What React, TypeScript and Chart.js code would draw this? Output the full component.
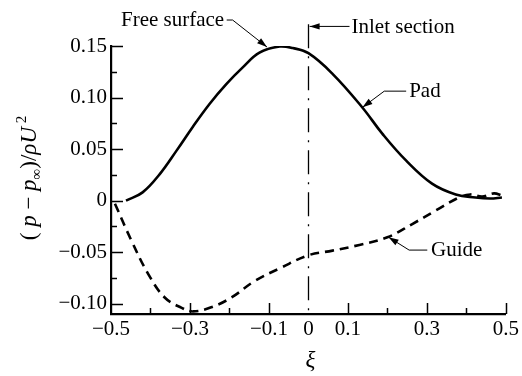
import React, { useEffect, useRef } from "react";
import { Chart, registerables } from "chart.js";

Chart.register(...registerables);

// Pad (solid) curve
const padXi = [-0.462, -0.42, -0.376, -0.334, -0.293, -0.25, -0.208, -0.167, -0.124, -0.073, -0.04, 0, 0.061, 0.136, 0.187, 0.247, 0.313, 0.373, 0.423, 0.46, 0.49];
const padP = [0, 0.008, 0.026, 0.0485, 0.0715, 0.094, 0.113, 0.129, 0.1435, 0.1495, 0.148, 0.143, 0.123, 0.0906, 0.065, 0.039, 0.0165, 0.006, 0.003, 0.002, 0.003];

// Guide (dashed) curve
const guideXi = [-0.49, -0.448, -0.406, -0.364, -0.321, -0.292, -0.246, -0.195, -0.136, -0.069, 0, 0.061, 0.129, 0.2, 0.263, 0.322, 0.381, 0.41, 0.44, 0.47, 0.49];
const guideP = [-0.003, -0.039, -0.071, -0.094, -0.104, -0.1075, -0.1035, -0.094, -0.078, -0.065, -0.053, -0.0485, -0.043, -0.0356, -0.0227, -0.0097, 0.003, 0.006, 0.004, 0.007, 0.005];

// Axes
const xMin = -0.5;
const xMax = 0.5;
const yMin = -0.11;
const yMax = 0.15;
const xTickValues = [-0.5, -0.3, -0.1, 0, 0.1, 0.3, 0.5];
const xTickLabels = ["\u22120.5", "\u22120.3", "\u22120.1", "0", "0.1", "0.3", "0.5"];
const xMajorMarks = [-0.3, -0.1, 0.1, 0.3, 0.5];
const xMinorMarks = [-0.4, -0.2, 0.2, 0.4];
const yTickValues = [-0.1, -0.05, 0, 0.05, 0.1, 0.15];
const yTickLabels = ["\u22120.10", "\u22120.05", "0", "0.05", "0.10", "0.15"];
const yMinorMarks = [-0.075, -0.025, 0.025, 0.075, 0.125];

// Annotations (data coordinates)
const inletXi = 0;
const inletTop = 0.171;
const annotations = [
  { text: "Free surface", align: "right", textAt: [-0.2134, 0.1752], path: [[-0.207, 0.1752], [-0.192, 0.1752], [-0.105, 0.149]] },
  { text: "Inlet section", align: "left", textAt: [0.109, 0.168], path: [[0.104, 0.169], [0.003, 0.169]] },
  { text: "Pad", align: "left", textAt: [0.255, 0.1054], path: [[0.2475, 0.1062], [0.192, 0.1062], [0.137, 0.0905]] },
  { text: "Guide", align: "left", textAt: [0.3106, -0.048], path: [[0.301, -0.048], [0.255, -0.048], [0.203, -0.0355]] },
];

const SERIF = "'Liberation Serif', 'Times New Roman', serif";

const decorPlugin = {
  id: "decor",
  beforeDatasetsDraw(chart: any) {
    const { ctx, scales } = chart;
    const xs = scales.x;
    const ys = scales.y;
    const x0 = Math.round(xs.getPixelForValue(inletXi)) + 0.5;
    ctx.save();
    ctx.strokeStyle = "#000";
    ctx.lineWidth = 1.3;
    ctx.setLineDash([24, 8, 2, 8]);
    ctx.beginPath();
    ctx.moveTo(x0, ys.getPixelForValue(inletTop));
    ctx.lineTo(x0, ys.bottom);
    ctx.stroke();
    ctx.restore();
  },
  afterDraw(chart: any) {
    const { ctx, scales, chartArea } = chart;
    const xs = scales.x;
    const ys = scales.y;
    ctx.save();
    ctx.strokeStyle = "#000";
    ctx.fillStyle = "#000";
    ctx.setLineDash([]);
    // inward ticks
    ctx.lineWidth = 1.5;
    ctx.beginPath();
    yTickValues.forEach((v) => {
      const y = Math.round(ys.getPixelForValue(v)) + 0.5;
      ctx.moveTo(chartArea.left, y);
      ctx.lineTo(chartArea.left + 12, y);
    });
    yMinorMarks.forEach((v) => {
      const y = Math.round(ys.getPixelForValue(v)) + 0.5;
      ctx.moveTo(chartArea.left, y);
      ctx.lineTo(chartArea.left + 6, y);
    });
    xMajorMarks.forEach((v) => {
      const x = Math.round(xs.getPixelForValue(v)) + 0.5;
      ctx.moveTo(x, chartArea.bottom);
      ctx.lineTo(x, chartArea.bottom - 11);
    });
    xMinorMarks.forEach((v) => {
      const x = Math.round(xs.getPixelForValue(v)) + 0.5;
      ctx.moveTo(x, chartArea.bottom);
      ctx.lineTo(x, chartArea.bottom - 6);
    });
    ctx.stroke();

    // annotations
    ctx.font = `21px ${SERIF}`;
    ctx.textBaseline = "middle";
    annotations.forEach((a) => {
      const pts = a.path.map((p) => [xs.getPixelForValue(p[0]), ys.getPixelForValue(p[1])]);
      ctx.lineWidth = 1;
      ctx.beginPath();
      ctx.moveTo(pts[0][0], pts[0][1]);
      for (let i = 1; i < pts.length; i++) ctx.lineTo(pts[i][0], pts[i][1]);
      ctx.stroke();
      const tip = pts[pts.length - 1];
      const prev = pts[pts.length - 2];
      const ang = Math.atan2(tip[1] - prev[1], tip[0] - prev[0]);
      const L = 10;
      const W = 3.2;
      ctx.beginPath();
      ctx.moveTo(tip[0], tip[1]);
      ctx.lineTo(tip[0] - L * Math.cos(ang) + W * Math.sin(ang), tip[1] - L * Math.sin(ang) - W * Math.cos(ang));
      ctx.lineTo(tip[0] - L * Math.cos(ang) - W * Math.sin(ang), tip[1] - L * Math.sin(ang) + W * Math.cos(ang));
      ctx.closePath();
      ctx.fill();
      ctx.textAlign = a.align as CanvasTextAlign;
      ctx.fillText(a.text, xs.getPixelForValue(a.textAt[0]), ys.getPixelForValue(a.textAt[1]));
    });

    // x title
    ctx.textAlign = "center";
    ctx.textBaseline = "alphabetic";
    ctx.font = `italic 23px ${SERIF}`;
    ctx.fillText("\u03BE", xs.getPixelForValue(0) + 2, 367);

    // y title (rotated, with sub/superscripts)
    const pieces = [
      { t: "(", f: `23px ${SERIF}`, dy: 0 },
      { t: " p", f: `italic 23px ${SERIF}`, dy: 0 },
      { t: " \u2212 ", f: `23px ${SERIF}`, dy: 0 },
      { t: "p", f: `italic 23px ${SERIF}`, dy: 0 },
      { t: "\u221E", f: `15px ${SERIF}`, dy: 5 },
      { t: ")/", f: `23px ${SERIF}`, dy: 0 },
      { t: "\u03C1U", f: `italic 23px ${SERIF}`, dy: 0 },
      { t: " 2", f: `15px ${SERIF}`, dy: -10 },
    ];
    let total = 0;
    const widths = pieces.map((p) => {
      ctx.font = p.f;
      const w = ctx.measureText(p.t).width;
      total += w;
      return w;
    });
    ctx.translate(36, (chartArea.top + chartArea.bottom) / 2 - 2);
    ctx.rotate(-Math.PI / 2);
    ctx.textAlign = "left";
    let cx = -total / 2;
    pieces.forEach((p, i) => {
      ctx.font = p.f;
      ctx.fillText(p.t, cx, p.dy);
      cx += widths[i];
    });
    ctx.restore();
  },
};

export default function App() {
  const ref = useRef<HTMLCanvasElement | null>(null);
  useEffect(() => {
    if (!ref.current) return;
    const chart = new Chart(ref.current, {
      type: "scatter",
      data: {
        datasets: [
          {
            label: "Pad",
            data: padXi.map((x, i) => ({ x, y: padP[i] })),
            showLine: true,
            borderColor: "#000",
            borderWidth: 2.6,
            pointRadius: 0,
            tension: 0.4,
          },
          {
            label: "Guide",
            data: guideXi.map((x, i) => ({ x, y: guideP[i] })),
            showLine: true,
            borderColor: "#000",
            borderWidth: 2.6,
            borderDash: [9, 6],
            pointRadius: 0,
            tension: 0.4,
          },
        ],
      },
      options: {
        animation: false,
        responsive: false,
        events: [],
        layout: { padding: { left: 0, top: 46, right: 15, bottom: 0 } },
        plugins: { legend: { display: false }, tooltip: { enabled: false } },
        scales: {
          x: {
            type: "linear",
            min: xMin,
            max: xMax,
            afterFit: (s: any) => { s.height = 62; },
            afterBuildTicks: (s: any) => { s.ticks = xTickValues.map((v) => ({ value: v })); },
            grid: { display: false, drawTicks: false },
            border: { display: true, color: "#000", width: 2.2 },
            ticks: {
              autoSkip: false,
              maxRotation: 0,
              padding: 3,
              color: "#000",
              font: { family: SERIF, size: 21 },
              callback: (_v: any, i: number) => xTickLabels[i],
            },
          },
          y: {
            type: "linear",
            min: yMin,
            max: yMax,
            afterFit: (s: any) => { s.width = 111; },
            afterBuildTicks: (s: any) => { s.ticks = yTickValues.map((v) => ({ value: v })); },
            grid: { display: false, drawTicks: false },
            border: { display: true, color: "#000", width: 2.2 },
            ticks: {
              autoSkip: false,
              padding: 4,
              color: "#000",
              font: { family: SERIF, size: 21 },
              callback: (_v: any, i: number) => yTickLabels[i],
            },
          },
        },
      },
      plugins: [decorPlugin],
    } as any);
    return () => chart.destroy();
  }, []);
  return (
    <div style={{ position: "fixed", left: 0, top: 0, width: 522, height: 376, background: "#fff" }}>
      <canvas ref={ref} width={522} height={376} style={{ width: 522, height: 376, display: "block" }} />
    </div>
  );
}
